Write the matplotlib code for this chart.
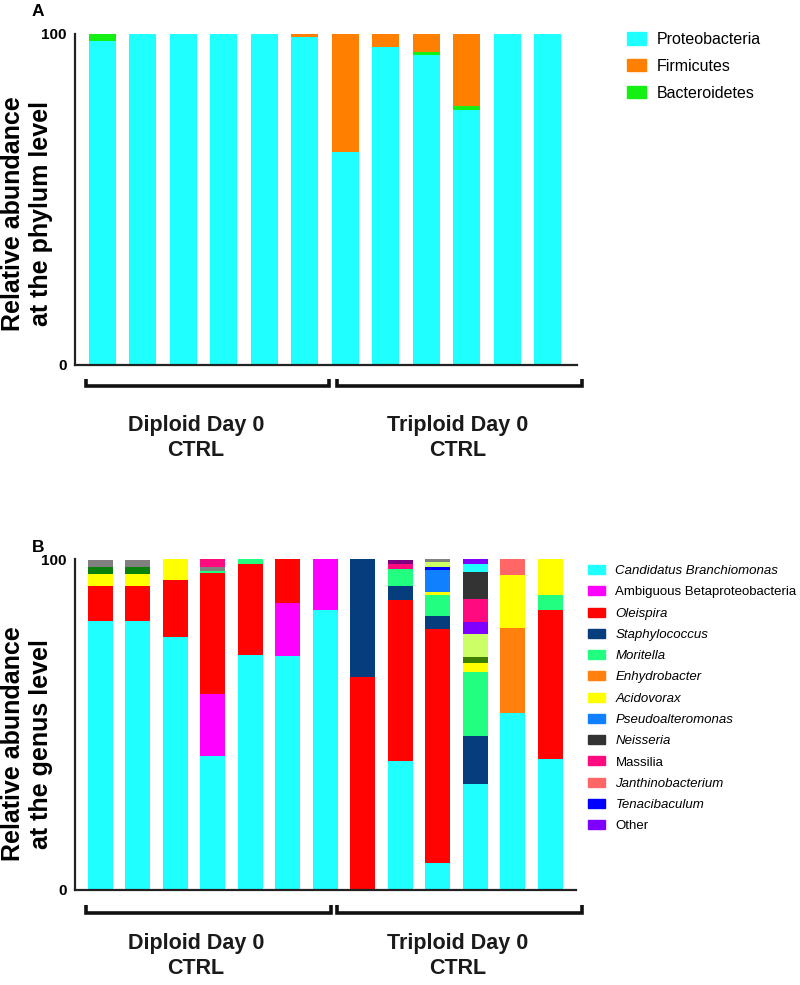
import numpy as np
import matplotlib
matplotlib.use("Agg")
import matplotlib.pyplot as plt
import matplotlib.transforms as mtransforms
from matplotlib.patches import Patch

plt.rcParams['font.family'] = ['Liberation Sans', 'DejaVu Sans']

# ---- panel A: phylum level (12 samples) ----
phyla = ['Proteobacteria', 'Firmicutes', 'Bacteroidetes']
phylum_colors = ['#20FFFF', '#FF8000', '#14F014']
proteo = [97.9, 100, 100, 100, 100, 99.1, 64.5, 96.0, 93.8, 76.9, 100, 100]
bacter = [2.1, 0, 0, 0, 0, 0, 0, 0, 0.8, 1.4, 0, 0]
firmic = [0, 0, 0, 0, 0, 0.9, 35.5, 4.0, 5.4, 21.7, 0, 0]
n_dip_A = 6

# ---- panel B: genus level (13 samples) ----
genus_names = ['Candidatus Branchiomonas', 'Ambiguous Betaproteobacteria', 'Oleispira',
               'Staphylococcus', 'Moritella', 'Enhydrobacter', 'Acidovorax',
               'Pseudoalteromonas', 'Neisseria', 'Massilia', 'Janthinobacterium',
               'Tenacibaculum', 'Other']
genus_italic = [True, False, True, True, True, True, True, True, True, False, True, True, False]
genus_colors = ['#20FFFF', '#FF00FF', '#FF0303', '#053D7D', '#22FF80', '#FF800D', '#FFFF00',
                '#1080FF', '#333333', '#FF0A7F', '#FF6666', '#0000FF', '#8000FF']

cand    = [81.3, 81.3, 76.4, 40.5, 71.0, 70.6, 84.5, 0, 39.0, 7.9, 31.8, 53.5, 39.6]
ambig   = [0, 0, 0, 18.7, 0, 16.3, 15.5, 0, 0, 0, 0, 0, 0]
oleis   = [10.6, 10.6, 17.3, 36.5, 27.5, 13.1, 0, 64.3, 48.7, 71.1, 0, 0, 45.1]
staph   = [0, 0, 0, 0, 0, 0, 0, 35.7, 4.1, 3.7, 14.6, 0, 0]
morit   = [0, 0, 0, 0.9, 1.5, 0, 0, 0, 5.2, 6.5, 19.4, 0, 4.6]
enhyd   = [0, 0, 0, 0, 0, 0, 0, 0, 0, 0, 0, 25.8, 0]
acido   = [3.6, 3.6, 6.4, 0, 0, 0, 0, 0, 0, 0.8, 2.9, 15.9, 10.7]
olive   = [0, 0, 0, 0, 0, 0, 0, 0, 0, 0, 1.6, 0, 0]
pseudo  = [0, 0, 0, 0, 0, 0, 0, 0, 0, 6.8, 0, 0, 0]
tenac   = [0, 0, 0, 0, 0, 0, 0, 0, 0, 0.8, 0, 0, 0]
lime    = [0, 0, 0, 0, 0, 0, 0, 0, 0, 1.7, 7.0, 0, 0]
dkgreen = [2.1, 2.1, 0, 0, 0, 0, 0, 0, 0, 0, 0, 0, 0]
grey    = [2.3, 2.3, 0, 1.0, 0, 0, 0, 0, 0, 0.7, 0, 0, 0]
other   = [0, 0, 0, 0, 0, 0, 0, 0, 0, 0, 3.6, 0, 0]
massil  = [0, 0, 0, 2.7, 0, 0, 0, 0, 1.7, 0, 7.1, 0, 0]
neiss   = [0, 0, 0, 0, 0, 0, 0, 0, 0, 0, 8.1, 0, 0]
cyan2   = [0, 0, 0, 0, 0, 0, 0, 0, 0, 0, 2.5, 0, 0]
dkpurp  = [0, 0, 0, 0, 0, 0, 0, 0, 1.2, 0, 0, 0, 0]
purp2   = [0, 0, 0, 0, 0, 0, 0, 0, 0, 0, 1.5, 0, 0]
janth   = [0, 0, 0, 0, 0, 0, 0, 0, 0, 0, 0, 4.8, 0]
n_dip_B = 7

# stacking order bottom -> top
stack_B = [(cand, '#20FFFF'), (ambig, '#FF00FF'), (oleis, '#FF0303'), (staph, '#053D7D'),
           (morit, '#22FF80'), (enhyd, '#FF800D'), (acido, '#FFFF00'), (olive, '#3F7F00'),
           (pseudo, '#1080FF'), (tenac, '#0000FF'), (lime, '#CCFF66'), (dkgreen, '#0B7F0B'),
           (grey, '#808080'), (other, '#8000FF'), (massil, '#FF0A7F'), (neiss, '#333333'),
           (cyan2, '#20FFFF'), (dkpurp, '#800080'), (purp2, '#8000FF'), (janth, '#FF6666')]

W, H = 800, 985
fig = plt.figure(figsize=(W / 100, H / 100), dpi=100)


def px_axes(x0, y0, x1, y1):
    # pixel box (left, top, right, bottom) -> figure axes
    return fig.add_axes([x0 / W, 1 - y1 / H, (x1 - x0) / W, (y1 - y0) / H])


def style(ax, nbars, left_off, right_end):
    ax.set_xlim(-left_off, nbars - 1 + right_end)
    ax.set_ylim(0, 100)
    ax.set_yticks([0, 100])
    ax.set_yticklabels(['0', '100'], fontsize=11, fontweight='bold')
    ax.tick_params(axis='y', length=0, pad=6)
    ax.set_xticks([])
    for s in ['top', 'right']:
        ax.spines[s].set_visible(False)
    for s in ['left', 'bottom']:
        ax.spines[s].set_linewidth(1.6)
        ax.spines[s].set_color('#222222')


def brackets(ax, groups, yb, yt, labels, label_x, label_y):
    tr = mtransforms.blended_transform_factory(ax.transData, ax.transAxes)
    for (x0, x1) in groups:
        ax.plot([x0, x0, x1, x1], [yt, yb, yb, yt], transform=tr, clip_on=False,
                color='#111111', lw=2.6, solid_capstyle='butt', solid_joinstyle='miter')
    for lab, lx in zip(labels, label_x):
        ax.text(lx, label_y, lab, transform=tr, ha='center', va='center',
                multialignment='center', fontsize=15.5, fontweight='bold',
                color='#1a1a1a', linespacing=1.25)


group_labels = ['Diploid Day 0\nCTRL', 'Triploid Day 0\nCTRL']

# ---- Panel A ----
axA = px_axes(75, 34, 577, 365)
xA = np.arange(len(proteo))
bottom = np.zeros(len(proteo))
for vals, col in zip([proteo, bacter, firmic], [phylum_colors[0], phylum_colors[2], phylum_colors[1]]):
    axA.bar(xA, vals, bottom=bottom, width=0.66, color=col, edgecolor='none')
    bottom += np.array(vals)
style(axA, len(proteo), 0.674, 0.72)
brackets(axA, [(-0.40, n_dip_A - 0.40), (n_dip_A - 0.20, len(proteo) - 0.16)],
         -0.063, -0.042, group_labels, [2.31, 8.77], -0.222)
legA = fig.legend([Patch(color=c) for c in phylum_colors], phyla,
                  loc='upper left', bbox_to_anchor=(627 / W, 1 - 32 / H),
                  frameon=False, fontsize=11.5, handlelength=1.16, handleheight=0.8,
                  handletextpad=0.72, labelspacing=0.74, borderpad=0, borderaxespad=0)
fig.text(27 / W, 1 - 214 / H, 'Relative abundance\nat the phylum level', rotation=90,
         ha='center', va='center', fontsize=18, fontweight='bold', linespacing=1.2)
fig.text(32 / W, 1 - 12 / H, 'A', ha='left', va='center', fontsize=12.5, fontweight='bold')

# ---- Panel B ----
axB = px_axes(75, 559.3, 576, 889.5)
xB = np.arange(len(cand))
bottom = np.zeros(len(cand))
for vals, col in stack_B:
    axB.bar(xB, vals, bottom=bottom, width=0.667, color=col, edgecolor='none')
    bottom += np.array(vals)
style(axB, len(cand), 0.673, 0.686)
brackets(axB, [(-0.37, n_dip_B - 0.85), (n_dip_B - 0.69, len(cand) - 0.15)],
         -0.072, -0.046, group_labels, [2.55, 9.52], -0.202)
legB = fig.legend([Patch(color=c) for c in genus_colors], genus_names,
                  loc='upper left', bbox_to_anchor=(588 / W, 1 - 565 / H),
                  frameon=False, fontsize=9.5, handlelength=1.3, handleheight=0.68,
                  handletextpad=0.78, labelspacing=0.69, borderpad=0, borderaxespad=0)
for t, it in zip(legB.get_texts(), genus_italic):
    if it:
        t.set_fontstyle('italic')
fig.text(27 / W, 1 - 744 / H, 'Relative abundance\nat the genus level', rotation=90,
         ha='center', va='center', fontsize=18, fontweight='bold', linespacing=1.2)
fig.text(32 / W, 1 - 548 / H, 'B', ha='left', va='center', fontsize=12.5, fontweight='bold')

fig.savefig('out.png', dpi=100)
